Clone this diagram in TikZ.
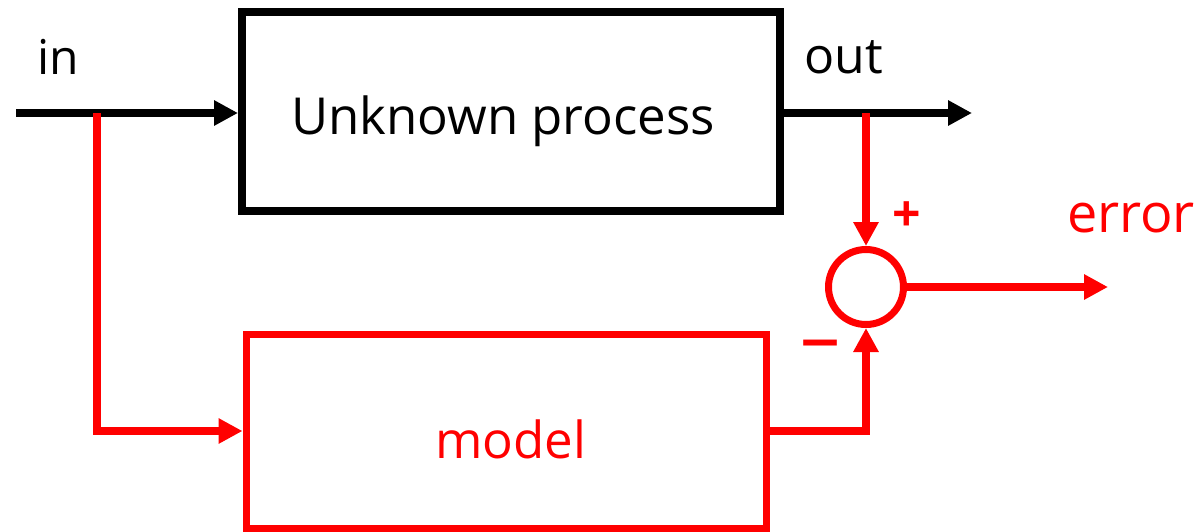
\documentclass[tikz,border=0pt]{standalone}
\usepackage{fontspec}
\setmainfont{Open Sans}
\usetikzlibrary{arrows.meta}
\definecolor{pred}{RGB}{255,0,0}
\tikzset{
  blockbk/.style={draw=black, line width=8pt, inner sep=0pt},
  blockrd/.style={draw=pred, line width=7pt, inner sep=0pt},
  boxtext/.style={font=\fontsize{51}{56}\selectfont, inner sep=0pt},
  sumnode/.style={circle, draw=pred, line width=7pt, minimum size=75pt, inner sep=0pt},
  wirebk/.style={draw=black, line width=8pt, -{Triangle[length=24pt,width=24pt]}},
  wirerd/.style={draw=pred, line width=8pt, -{Triangle[length=24pt,width=24pt]}},
  lblbk/.style={font=\fontsize{48}{54}\selectfont, text=black, inner sep=0pt},
  lblrd/.style={font=\fontsize{48}{54}\selectfont, text=pred, inner sep=0pt},
}
\begin{document}
\begin{tikzpicture}[x=1pt,y=-1pt]
\useasboundingbox (0,0) rectangle (1203,531);
\node[blockbk, minimum width=538pt, minimum height=199pt,
      label={[boxtext, text=black, xshift=-8pt, yshift=-10pt]center:Unknown process}] (proc) at (511,111.5) {};
\node[blockrd, minimum width=520pt, minimum height=194pt,
      label={[boxtext, text=pred, xshift=5pt, yshift=-8pt]center:model}] (model) at (506,431) {};
\node[sumnode] (sum) at (866,287) {};
\coordinate (inS) at (16,113);
\coordinate (outE) at (972,113);
\coordinate (tapIn) at (97,113);
\coordinate (tapOut) at (866,113);
\coordinate (errE) at (1108,287);
\draw[wirebk] (inS) -- (inS -| proc.west);
\draw[wirebk] (proc.east |- outE) -- (outE);
\draw[wirerd] (tapIn) |- (model.west);
\draw[wirerd] (tapOut) -- (sum.north);
\draw[wirerd] (model.east) -| (sum.south);
\draw[wirerd] (sum.east) -- (errE);
\node[lblbk] (inL) at (58,57) {in};
\node[lblbk, font=\fontsize{50}{54}\selectfont] (outL) at (844,57) {out};
\node[lblrd, font=\fontsize{50}{54}\selectfont\bfseries] (plusL) at (907,217) {+};
\node[lblrd, font=\fontsize{54}{58}\selectfont] (errL) at (1131,218) {error};
\node[lblrd, font=\fontsize{80}{80}\selectfont] (minusL) at (820,352) {\textendash};
\end{tikzpicture}
\end{document}
